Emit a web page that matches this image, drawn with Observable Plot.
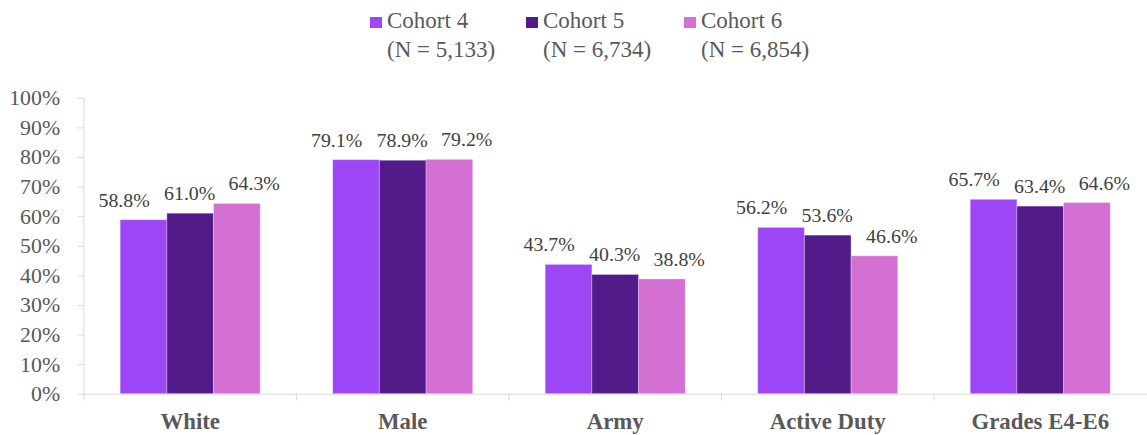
<!DOCTYPE html>
<html><head><meta charset="utf-8">
<script src="https://cdn.jsdelivr.net/npm/d3@7"></script>
<script src="https://cdn.jsdelivr.net/npm/@observablehq/plot@0.6"></script>
<style>
html,body{margin:0;padding:0;background:#fff;overflow:hidden;width:1147px;height:435px}
#legend{position:relative;height:70px;font-family:"Liberation Serif","Times New Roman",serif;color:#595959;font-size:23px;line-height:29px}
.item{position:absolute;top:6px;white-space:nowrap}
.sw{position:absolute;left:-17px;top:11px;width:12px;height:11px}
#chart svg{display:block;overflow:visible;font-family:"Liberation Serif","Times New Roman",serif !important}
#chart svg text{font-family:"Liberation Serif","Times New Roman",serif !important}
</style></head>
<body>
<div id="legend"></div>
<div id="chart"></div>
<script>
const categories = ["White", "Male", "Army", "Active Duty", "Grades E4-E6"];
const cohorts = ["Cohort 4", "Cohort 5", "Cohort 6"];
const cohortN = ["(N = 5,133)", "(N = 6,734)", "(N = 6,854)"];
const cohort4 = [58.8, 79.1, 43.7, 56.2, 65.7];
const cohort5 = [61.0, 78.9, 40.3, 53.6, 63.4];
const cohort6 = [64.3, 79.2, 38.8, 46.6, 64.6];
const colors = ["#9c46f5", "#531b8a", "#d46fd4"];
const yTicks = [0,10,20,30,40,50,60,70,80,90,100];

const series = [cohort4, cohort5, cohort6];
const data = [];
categories.forEach((c, i) => cohorts.forEach((k, j) => data.push({category: c, cohort: k, value: series[j][i]})));

// legend
const legendX = [387, 543, 701];
const lg = document.getElementById("legend");
cohorts.forEach((k, j) => {
  const d = document.createElement("div");
  d.className = "item";
  d.style.left = legendX[j] + "px";
  d.innerHTML = `<span class="sw" style="background:${colors[j]}"></span>${k}<br>${cohortN[j]}`;
  lg.appendChild(d);
});

// label spreading (style): labels fan out left/centre/right as in the source
const labelSpread = {"Cohort 4": -20, "Cohort 5": -1, "Cohort 6": 17};
const tickShape = {draw(ctx, l) { ctx.moveTo(0, 0); ctx.lineTo(0, -l); }};

const labelMarks = cohorts.map(k =>
  Plot.text(data.filter(d => d.cohort === k), {fx: "category", x: "cohort", y: "value",
    text: d => d.value.toFixed(1) + "%", dy: -20, dx: labelSpread[k], fontSize: 20, fill: "#404040"}));

const chart = Plot.plot({
  width: 1155,
  height: 365,
  marginTop: 28,
  marginBottom: 39,
  marginLeft: 82,
  marginRight: 0,
  style: 'font-family:"Liberation Serif","Times New Roman",serif;color:#595959;background:#fff;',
  fx: {domain: categories, padding: 0, label: null},
  x: {domain: cohorts, paddingInner: 0, paddingOuter: 0.75, axis: null},
  y: {domain: [0, 100], label: null},
  color: {domain: cohorts, range: colors},
  marks: [
    Plot.barY(data, {fx: "category", x: "cohort", y: "value", fill: "cohort", stroke: "#fff", strokeOpacity: 0.3, strokeWidth: 1}),
    ...labelMarks,
    Plot.axisY({ticks: yTicks, tickFormat: d => d + "%", tickSize: 6, tickPadding: 18, fontSize: 22, stroke: "#d9d9d9", fill: "#595959", facetAnchor: "left", label: null}),
    Plot.axisFx({anchor: "bottom", tickSize: 0, tickPadding: 19, fontSize: 23, fontWeight: "bold", fill: "#595959", label: null}),
    Plot.frame({anchor: "left", stroke: "#d9d9d9", facetAnchor: "left"}),
    Plot.frame({anchor: "bottom", stroke: "#d9d9d9"}),
    Plot.vector([0], {frameAnchor: "bottom-left", length: 6, rotate: 180, anchor: "start", shape: tickShape, stroke: "#d9d9d9", strokeWidth: 1})
  ]
});
document.getElementById("chart").appendChild(chart);
</script>
</body></html>
